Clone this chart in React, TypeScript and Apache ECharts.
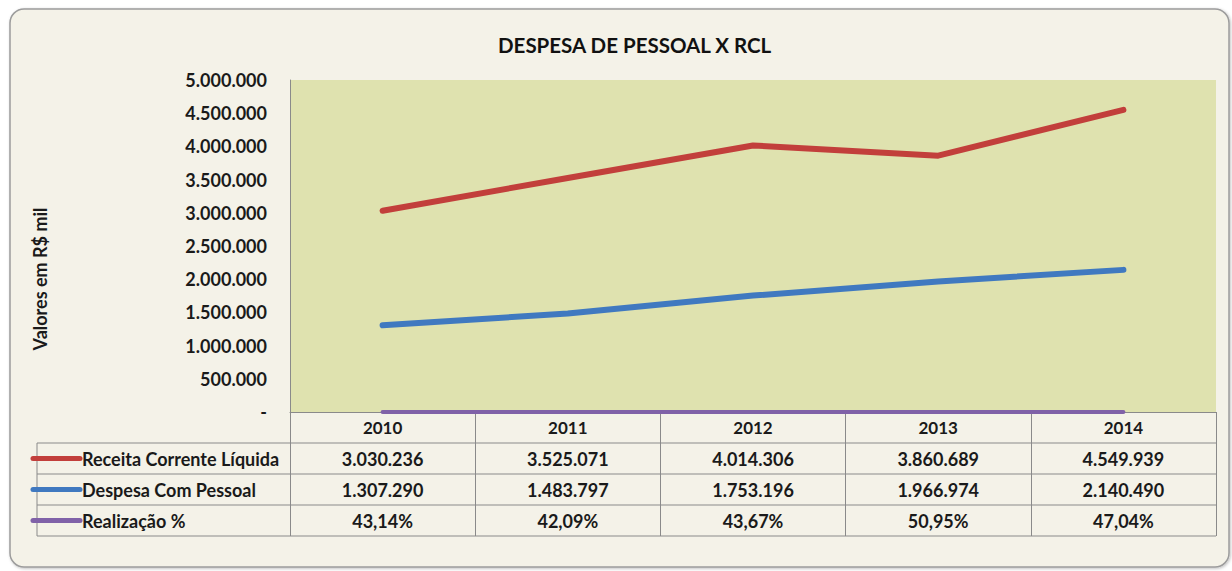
import React, { useEffect, useRef } from "react";
import * as echarts from "echarts";

const years = ["2010", "2011", "2012", "2013", "2014"];
const receita = [3030236, 3525071, 4014306, 3860689, 4549939];
const despesa = [1307290, 1483797, 1753196, 1966974, 2140490];
const realizacao = [43.14, 42.09, 43.67, 50.95, 47.04];
const seriesNames = ["Receita Corrente Líquida", "Despesa Com Pessoal", "Realização %"];
const yAxisName = "Valores em R$ mil";

const W = 1232;
const H = 571;
const GRID_LEFT = 290;
const GRID_RIGHT = 16;
const GRID_TOP = 80;
const GRID_BOTTOM = 159;
const FONT = "Lato";
const COLORS = ["#c23f3b", "#4079c0", "#8062a8"];

const fmtNum = (v: number) => String(Math.round(v)).replace(/\B(?=(\d{3})+(?!\d))/g, ".");
const fmtPct = (v: number) => v.toFixed(2).replace(".", ",") + "%";

export default function App() {
  const ref = useRef<HTMLDivElement>(null);
  useEffect(() => {
    if (!ref.current) return;
    const chart = echarts.init(ref.current, null, { renderer: "svg" });
    const axisY = H - GRID_BOTTOM; // 412
    const rowH = 31;
    const tableLeft = 37;
    const tableRight = W - GRID_RIGHT;
    const colW = (W - GRID_LEFT - GRID_RIGHT) / years.length;
    const rows = [receita.map(fmtNum), despesa.map(fmtNum), realizacao.map(fmtPct)];
    const textStyle = { fontFamily: FONT, fontWeight: "bold", fontSize: 18, fill: "#1a1a1a" };
    const gfx: any[] = [
      {
        type: "rect",
        z: -10,
        shape: { x: 10, y: 9, width: 1219, height: 558, r: 14 },
        style: { fill: "#f4f2e8", stroke: "#9c9c9c", lineWidth: 1.5, shadowBlur: 3, shadowColor: "rgba(0,0,0,0.25)", shadowOffsetX: 1, shadowOffsetY: 1 },
      },
      {
        type: "text",
        z: 6,
        x: 40,
        y: 279,
        rotation: Math.PI / 2,
        style: { ...textStyle, text: yAxisName, textAlign: "center", textVerticalAlign: "middle" },
      },
    ];
    const lineStyle = { stroke: "#8a8a8a", lineWidth: 1 };
    for (let i = 1; i <= 4; i++) {
      const y = axisY + rowH * i;
      gfx.push({ type: "line", z: 5, shape: { x1: tableLeft, y1: y, x2: tableRight, y2: y }, style: lineStyle });
    }
    gfx.push({ type: "line", z: 5, shape: { x1: tableLeft, y1: axisY + rowH, x2: tableLeft, y2: axisY + rowH * 4 }, style: lineStyle });
    rows.forEach((vals, r) => {
      const cy = axisY + rowH * (r + 1) + rowH / 2;
      gfx.push({ type: "line", z: 6, shape: { x1: 33, y1: cy, x2: 80, y2: cy }, style: { stroke: COLORS[r], lineWidth: 5, lineCap: "round" } });
      gfx.push({ type: "text", z: 6, x: 82, y: cy, style: { ...textStyle, text: seriesNames[r], textAlign: "left", textVerticalAlign: "middle" } });
      vals.forEach((t, c) => {
        gfx.push({ type: "text", z: 6, x: GRID_LEFT + colW * (c + 0.5), y: cy, style: { ...textStyle, text: t, textAlign: "center", textVerticalAlign: "middle" } });
      });
    });

    chart.setOption({
      animation: false,
      backgroundColor: "#ffffff",
      title: {
        text: "DESPESA DE PESSOAL X RCL",
        left: 493,
        top: 29,
        textStyle: { fontFamily: FONT, fontWeight: "bold", fontSize: 20.5, color: "#111" },
      },
      grid: {
        left: GRID_LEFT,
        right: GRID_RIGHT,
        top: GRID_TOP,
        bottom: GRID_BOTTOM,
        show: true,
        backgroundColor: "#dfe2af",
        borderWidth: 0,
      },
      xAxis: {
        type: "category",
        data: years,
        boundaryGap: true,
        axisLine: { show: true, lineStyle: { color: "#8a8a8a", width: 1 } },
        axisTick: { show: true, interval: 0, length: rowH * 4, lineStyle: { color: "#8a8a8a" } },
        axisLabel: { interval: 0, margin: 7, fontFamily: FONT, fontWeight: "bold", fontSize: 17, color: "#1a1a1a" },
      },
      yAxis: {
        type: "value",
        min: 0,
        max: 5000000,
        interval: 500000,
        axisLine: { show: true, lineStyle: { color: "#8a8a8a", width: 1 } },
        axisTick: { show: false },
        splitLine: { show: false },
        axisLabel: {
          margin: 23,
          fontFamily: FONT,
          fontWeight: "bold",
          fontSize: 18,
          color: "#1a1a1a",
          formatter: (v: number) => (v === 0 ? "-" : fmtNum(v)),
        },
      },
      series: [
        { name: seriesNames[0], type: "line", data: receita, symbol: "none", lineStyle: { color: COLORS[0], width: 6, cap: "round", join: "round" }, z: 3 },
        { name: seriesNames[1], type: "line", data: despesa, symbol: "none", lineStyle: { color: COLORS[1], width: 6, cap: "round", join: "round" }, z: 3 },
        { name: seriesNames[2], type: "line", data: realizacao, symbol: "none", lineStyle: { color: COLORS[2], width: 4, cap: "round" }, z: 4 },
      ],
      graphic: gfx,
    });
    return () => chart.dispose();
  }, []);
  return <div ref={ref} style={{ position: "fixed", left: 0, top: 0, width: W, height: H }} />;
}
